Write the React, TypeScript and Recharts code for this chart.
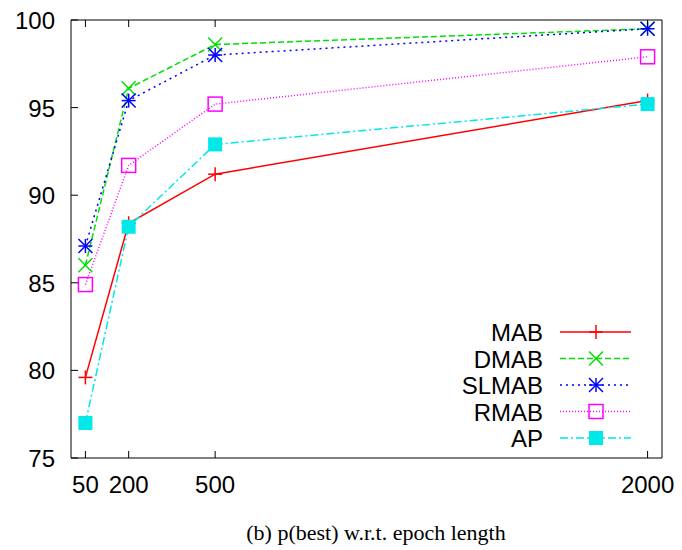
import { LineChart, Line, XAxis, YAxis } from "recharts";

const epochs = [50, 200, 500, 2000];
const mab = [79.6, 88.4, 91.2, 95.4];
const dmab = [86.0, 96.1, 98.6, 99.5];
const slmab = [87.1, 95.4, 98.0, 99.5];
const rmab = [84.9, 91.7, 95.2, 97.9];
const ap = [77.0, 88.2, 92.9, 95.2];
const yTicks = [75, 80, 85, 90, 95, 100];

const SERIES = [
  { key: "MAB", color: "#ff0000", dash: undefined, marker: "plus" },
  { key: "DMAB", color: "#00e000", dash: "6 3", marker: "cross" },
  { key: "SLMAB", color: "#0000ff", dash: "2 4", marker: "star" },
  { key: "RMAB", color: "#ff00ff", dash: "1 2", marker: "box" },
  { key: "AP", color: "#00e8e8", dash: "8 3 2 3", marker: "fbox" },
];

const data = epochs.map((e, i) => ({
  epoch: e,
  MAB: mab[i],
  DMAB: dmab[i],
  SLMAB: slmab[i],
  RMAB: rmab[i],
  AP: ap[i],
}));

function Marker({ cx, cy, type, color }: { cx: number; cy: number; type: string; color: string }) {
  const s = 7;
  const w = 1.5;
  if (type === "plus")
    return (
      <g stroke={color} strokeWidth={w}>
        <line x1={cx - s} y1={cy} x2={cx + s} y2={cy} />
        <line x1={cx} y1={cy - s} x2={cx} y2={cy + s} />
      </g>
    );
  if (type === "cross")
    return (
      <g stroke={color} strokeWidth={w}>
        <line x1={cx - s} y1={cy - s} x2={cx + s} y2={cy + s} />
        <line x1={cx - s} y1={cy + s} x2={cx + s} y2={cy - s} />
      </g>
    );
  if (type === "star")
    return (
      <g stroke={color} strokeWidth={w}>
        <line x1={cx - s} y1={cy} x2={cx + s} y2={cy} />
        <line x1={cx} y1={cy - s} x2={cx} y2={cy + s} />
        <line x1={cx - s} y1={cy - s} x2={cx + s} y2={cy + s} />
        <line x1={cx - s} y1={cy + s} x2={cx + s} y2={cy - s} />
      </g>
    );
  if (type === "box")
    return <rect x={cx - s} y={cy - s} width={2 * s} height={2 * s} fill="none" stroke={color} strokeWidth={w} />;
  return <rect x={cx - s} y={cy - s} width={2 * s} height={2 * s} fill={color} />;
}

function KeyBox() {
  return (
    <svg width={250} height={140} style={{ position: "absolute", left: 420, top: 320 }}>
      {SERIES.map((s, i) => {
        const y = 12 + i * 26.5;
        return (
          <g key={s.key}>
            <text x={123} y={y + 9} textAnchor="end" fontSize={24} fill="#000">
              {s.key}
            </text>
            <line x1={140} y1={y} x2={211} y2={y} stroke={s.color} strokeWidth={1.5} strokeDasharray={s.dash} />
            <Marker cx={176} cy={y} type={s.marker} color={s.color} />
          </g>
        );
      })}
    </svg>
  );
}

// ticks point inward like gnuplot
const LeftTick = (p: any) => (
  <g>
    <line x1={p.x + 16} y1={p.y} x2={p.x + 23} y2={p.y} stroke="#000" />
    <text x={p.x} y={p.y + 9} textAnchor="end" fontSize={24} fill="#000">
      {p.payload.value}
    </text>
  </g>
);
const RightTick = (p: any) => (
  <g>
    <line x1={p.x - 7} y1={p.y} x2={p.x} y2={p.y} stroke="#000" />
  </g>
);
const BottomTick = (p: any) => (
  <g>
    <line x1={p.x} y1={p.y - 7} x2={p.x} y2={p.y} stroke="#000" />
    <text x={p.x} y={p.y + 35} textAnchor="middle" fontSize={24} fill="#000">
      {p.payload.value}
    </text>
  </g>
);
const TopTick = (p: any) => (
  <g>
    <line x1={p.x} y1={p.y} x2={p.x} y2={p.y + 7} stroke="#000" />
  </g>
);

export default function App() {
  return (
    <div
      style={{
        position: "absolute",
        left: 0,
        top: 0,
        width: 682,
        height: 550,
        background: "#fff",
        fontFamily: "'Liberation Sans', Arial, sans-serif",
      }}
    >
      <LineChart width={682} height={500} data={data} margin={{ top: 10, right: 10, left: 11, bottom: 12 }}>
        <XAxis
          dataKey="epoch"
          type="number"
          domain={[0, 2050]}
          ticks={epochs}
          xAxisId="b"
          height={30}
          tickSize={0}
          tickMargin={0}
          tickLine={false}
          stroke="#000"
          tick={BottomTick}
        />
        <XAxis
          dataKey="epoch"
          type="number"
          domain={[0, 2050]}
          ticks={epochs}
          xAxisId="t"
          orientation="top"
          height={10}
          tickSize={0}
          tickMargin={0}
          tickLine={false}
          stroke="#000"
          tick={TopTick}
        />
        <YAxis
          yAxisId="l"
          domain={[75, 100]}
          ticks={yTicks}
          width={60}
          tickSize={0}
          tickMargin={16}
          tickLine={false}
          stroke="#000"
          tick={LeftTick}
        />
        <YAxis
          yAxisId="r"
          orientation="right"
          domain={[75, 100]}
          ticks={yTicks}
          width={10}
          tickSize={0}
          tickMargin={0}
          tickLine={false}
          stroke="#000"
          tick={RightTick}
        />
        {SERIES.map((s) => (
          <Line
            key={s.key}
            dataKey={s.key}
            xAxisId="b"
            yAxisId="l"
            type="linear"
            stroke={s.color}
            strokeWidth={1.5}
            strokeDasharray={s.dash}
            dot={(p: any) => <Marker key={`${s.key}-${p.index}`} cx={p.cx} cy={p.cy} type={s.marker} color={s.color} />}
            activeDot={false}
            isAnimationActive={false}
          />
        ))}
      </LineChart>
      <KeyBox />
      <div
        style={{
          position: "absolute",
          left: 0,
          width: 752,
          top: 520,
          textAlign: "center",
          fontFamily: "'Liberation Serif', serif",
          fontSize: 22,
        }}
      >
        (b) p(best) w.r.t. epoch length
      </div>
    </div>
  );
}
